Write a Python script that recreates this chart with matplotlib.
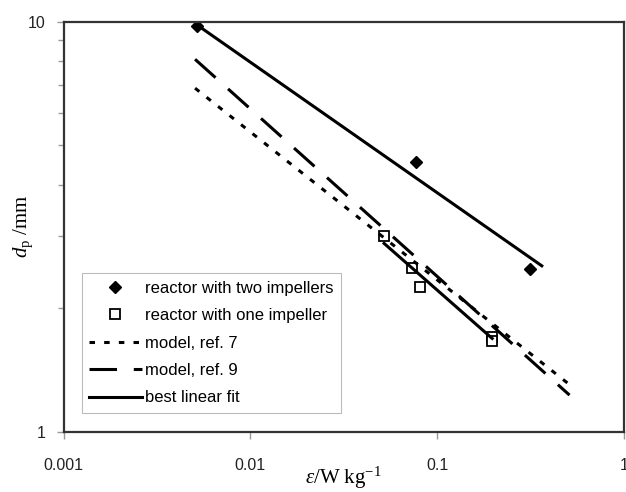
import matplotlib
matplotlib.use('Agg')
import numpy as np
import matplotlib.pyplot as plt
from matplotlib.ticker import LogLocator, NullFormatter, FixedLocator, FixedFormatter

# measured points
eps_two = [0.0052, 0.0768, 0.314]
dp_two = [9.75, 4.55, 2.50]

eps_one = [0.052, 0.0736, 0.0813, 0.197, 0.197]
dp_one = [3.01, 2.51, 2.25, 1.70, 1.67]

# model lines (end points)
eps_ref7 = [0.00506, 0.505]
dp_ref7 = [6.88, 1.31]
eps_ref9 = [0.00506, 0.511]
dp_ref9 = [8.09, 1.23]

# best linear fits
eps_fit_two = [0.0052, 0.363]
dp_fit_two = [9.80, 2.54]
eps_fit_one = [0.052, 0.197]
dp_fit_one = [2.88, 1.69]

plt.rcParams['font.family'] = ['Liberation Sans', 'DejaVu Sans']
plt.rcParams['mathtext.fontset'] = 'custom'
plt.rcParams['mathtext.rm'] = 'Liberation Serif'
plt.rcParams['mathtext.it'] = 'Liberation Serif:italic'

fig = plt.figure(figsize=(6.26, 4.92), dpi=100)
ax = fig.add_axes([63.5/626, 60/492, 560.5/626, 410.5/492])

ax.plot(eps_two, dp_two, 'D', color='black', markersize=6.5, linestyle='none',
        label='reactor with two impellers')
ax.plot(eps_one, dp_one, 's', mfc='white', mec='black', mew=1.3, markersize=6.5,
        linestyle='none', label='reactor with one impeller')
ax.plot(eps_ref7, dp_ref7, color='black', lw=2.2, dashes=(1.8, 3.0), label='model, ref. 7')
ax.plot(eps_ref9, dp_ref9, color='black', lw=2.2, dashes=(9, 5.5), label='model, ref. 9')
ax.plot(eps_fit_two, dp_fit_two, color='black', lw=2.2, label='best linear fit')
ax.plot(eps_fit_one, dp_fit_one, color='black', lw=2.2)

ax.set_xscale('log')
ax.set_yscale('log')
ax.set_xlim(0.001, 1)
ax.set_ylim(1, 10)

ax.xaxis.set_major_locator(FixedLocator([0.001, 0.01, 0.1, 1]))
ax.xaxis.set_major_formatter(FixedFormatter(['0.001', '0.01', '0.1', '1']))
ax.xaxis.set_minor_locator(FixedLocator([]))
ax.yaxis.set_major_locator(FixedLocator([1, 10]))
ax.yaxis.set_major_formatter(FixedFormatter(['1', '10']))
ax.yaxis.set_minor_locator(LogLocator(base=10, subs=np.arange(2, 10)))
ax.yaxis.set_minor_formatter(NullFormatter())

ax.tick_params(axis='both', which='major', direction='out', length=5, width=1,
               color='#999999', labelsize=11.5, labelcolor='#222222')
ax.tick_params(axis='x', which='major', pad=14)
ax.tick_params(axis='y', which='major', pad=8)
ax.tick_params(axis='y', which='minor', direction='out', length=4, width=1, color='#999999')

for s in ax.spines.values():
    s.set_linewidth(1.6)
    s.set_color('#333333')

ax.set_xlabel(r'$\varepsilon$/W kg$^{-1}$', fontsize=15, family='Liberation Serif')
ax.set_ylabel(r'$d_{\rm p}$ /mm', fontsize=15, family='Liberation Serif')
ax.xaxis.set_label_coords(0.5, -0.08)
ax.yaxis.set_label_coords(-0.05, 0.5)

leg = ax.legend(loc='lower left', bbox_to_anchor=(81.7/626, 79/492),
                bbox_transform=fig.transFigure, borderaxespad=0, fontsize=12,
                frameon=True, fancybox=False, edgecolor='#aaaaaa', handlelength=3.15,
                handletextpad=0.2, labelspacing=0.75, borderpad=0.45)
leg.get_frame().set_linewidth(0.8)

fig.savefig('out.png', dpi=100)
